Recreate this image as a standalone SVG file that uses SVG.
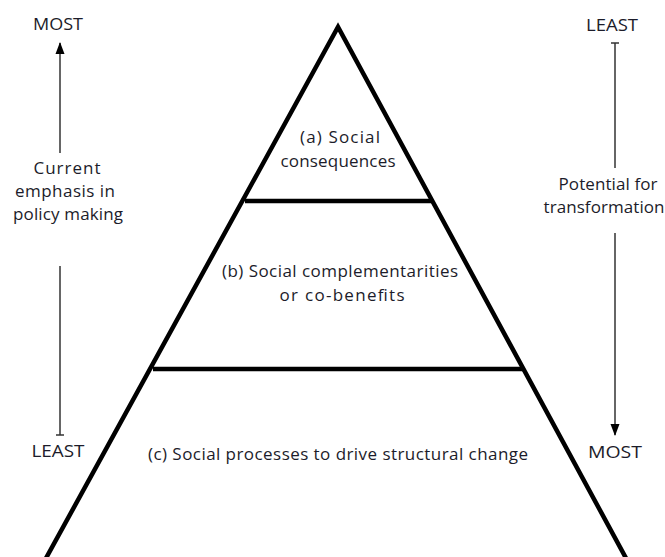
<svg xmlns="http://www.w3.org/2000/svg" width="665" height="557" viewBox="0 0 665 557">
<style>
text{font-family:"Open Sans","Liberation Sans",sans-serif;font-size:17px;fill:#1c1c2a;text-anchor:middle}
.cap{font-size:16px}
.tri{stroke:#000;stroke-width:4.5;fill:none;stroke-linejoin:miter}
.ax{stroke:#333;stroke-width:1.5;fill:none}
</style>
<defs>
<marker id="ah" markerWidth="12" markerHeight="10" refX="11" refY="5" orient="auto" markerUnits="userSpaceOnUse" viewBox="0 0 12 10">
<path d="M0,0.5 L12,5 L0,9.5 Z" fill="#000"/>
</marker>
<marker id="tk" markerWidth="10" markerHeight="10" refX="5" refY="5" orient="auto" markerUnits="userSpaceOnUse" viewBox="0 0 10 10">
<path d="M5,1 L5,9" stroke="#333" stroke-width="1.5"/>
</marker>
</defs>
<g id="pyramid">
<path class="tri" d="M45,560 L338,27 L627,560"/>
<line class="tri" x1="245" y1="201" x2="432" y2="201"/>
<line class="tri" x1="153" y1="369" x2="524" y2="369"/>
</g>
<g id="tierA"><text x="340" y="143" textLength="80">(a) Social</text><text x="338" y="167" textLength="115">consequences</text></g>
<g id="tierB"><text x="340" y="277" textLength="236">(b) Social complementarities</text><text x="342" y="301" textLength="125">or co-benefits</text></g>
<g id="tierC"><text x="338" y="460" textLength="380">(c) Social processes to drive structural change</text></g>
<g id="leftAxis">
<text class="cap" x="58" y="30" textLength="50" lengthAdjust="spacingAndGlyphs">MOST</text>
<text x="67" y="174" textLength="67">Current</text>
<text x="65" y="197" textLength="100">emphasis in</text>
<text x="68" y="220" textLength="110">policy making</text>
<text class="cap" x="58" y="457" textLength="53" lengthAdjust="spacingAndGlyphs">LEAST</text>
</g>
<g id="rightAxis">
<text class="cap" x="612" y="31" textLength="52" lengthAdjust="spacingAndGlyphs">LEAST</text>
<text x="608" y="190" textLength="99">Potential for</text>
<text x="604" y="213" textLength="121">transformation</text>
<text class="cap" x="615" y="458" textLength="54" lengthAdjust="spacingAndGlyphs">MOST</text>
</g>
<g id="connectors">
<line class="ax" x1="60" y1="153" x2="60" y2="43" marker-end="url(#ah)"/>
<line class="ax" x1="60" y1="266" x2="60" y2="435" marker-end="url(#tk)"/>
<line class="ax" x1="615" y1="168" x2="615" y2="43" marker-end="url(#tk)"/>
<line class="ax" x1="615" y1="233" x2="615" y2="435" marker-end="url(#ah)"/>
</g>
</svg>
